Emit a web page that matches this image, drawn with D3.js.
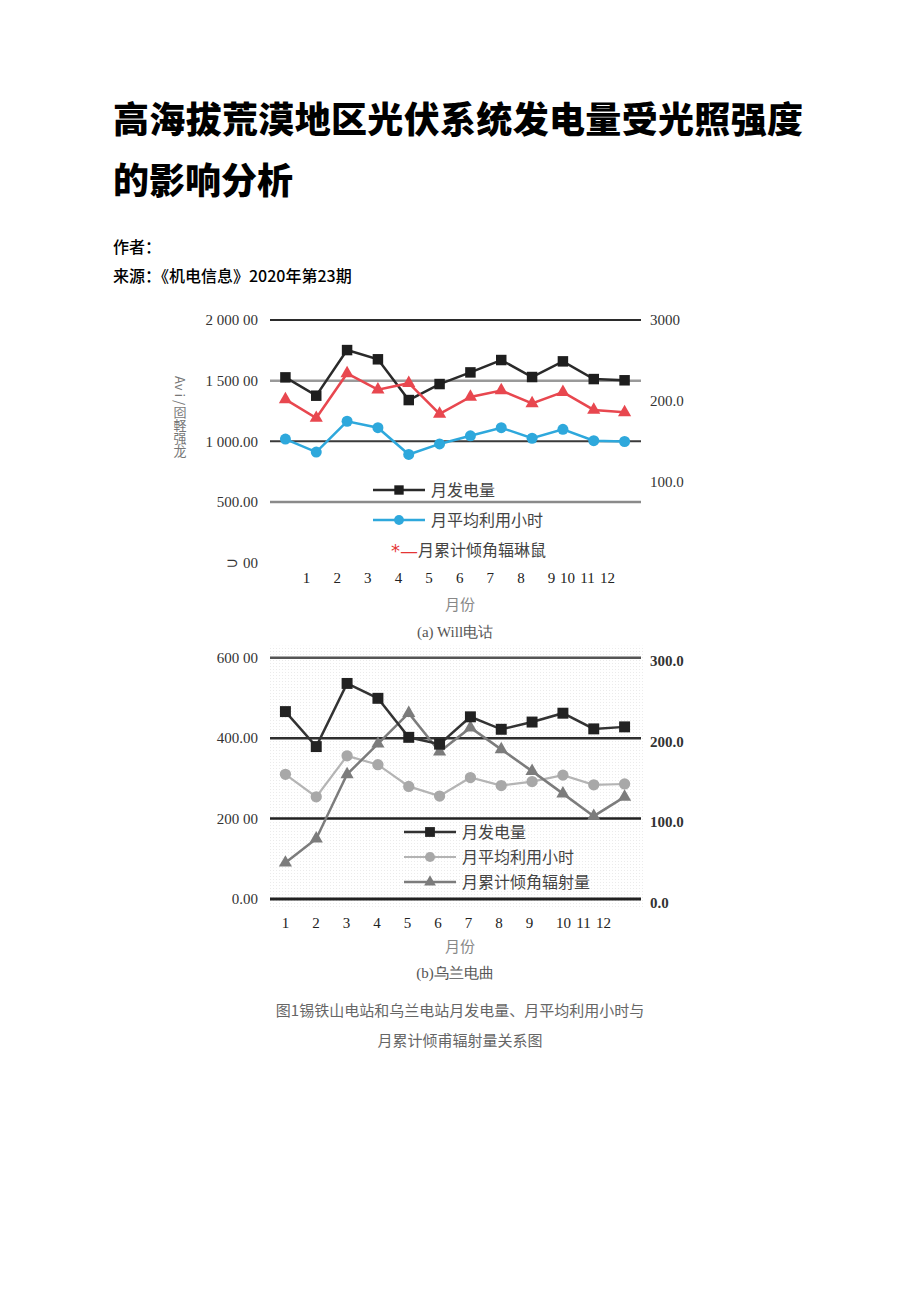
<!DOCTYPE html>
<html>
	<head>
		<meta http-equiv="Content-Type" content="text/html;charset=utf-8"/>
		<title>光伏系统发电量</title>
		<script src="https://d3js.org/d3.v7.min.js"></script>
		<style type="text/css">
			body { margin: 0; background: #fff; }
			.serif { font-family: "Liberation Serif", "DejaVu Serif", serif; }
			.cjk { font-family: "Noto Sans CJK SC", sans-serif; }
			.axis path { display: none; }
			.axis line { display: none; }
			.vert { writing-mode: vertical-rl; }
		</style>
	</head>
	<body>
		<script type="text/javascript">

			//Data
			var months = [1, 2, 3, 4, 5, 6, 7, 8, 9, 10, 11, 12];

			//(a) station
			var powerA = [1527, 1376, 1752, 1676, 1340, 1472, 1568, 1670, 1530, 1659, 1513, 1503];
			var hoursA = [153, 137, 175, 167, 134, 147, 157, 167, 154, 165, 151, 150];
			var radA = [202, 179, 234, 214, 222, 184, 205, 213, 197, 211, 189, 186];

			//(b) station
			var powerB = [466, 379, 536, 499, 402, 385, 453, 422, 440, 462, 423, 428];
			var hoursB = [155, 127, 178, 167, 140, 128, 151, 141, 146, 154, 142, 143];
			var radB = [45, 75, 155, 193, 231, 183, 213, 186, 159, 131, 103, 127];

			//Tick labels (as printed, garbling included)
			var leftTicksA = [0, 500, 1000, 1500, 2000];
			var leftLabelsA = ["⊃ 00", "500.00", "1 000.00", "1 500 00", "2 000 00"];
			var rightTicksA = [100, 200, 300];
			var rightLabelsA = ["100.0", "200.0", "3000"];
			var leftTicksB = [0, 200, 400, 600];
			var leftLabelsB = ["0.00", "200 00", "400.00", "600 00"];
			var rightTicksB = [0, 100, 200, 300];
			var rightLabelsB = ["0.0", "100.0", "200.0", "300.0"];

			var legendA = ["月发电量", "月平均利用小时", "月累计倾角辐琳鼠"];
			var legendB = ["月发电量", "月平均利用小时", "月累计倾角辐射量"];

			var w = 920, h = 1301;

			var svg = d3.select("body").append("svg")
						.attr("width", w)
						.attr("height", h);

			//Page text
			svg.append("text").attr("class", "cjk")
				.attr("x", 113).attr("y", 133)
				.attr("font-size", 36).attr("font-weight", 900)
				.attr("textLength", 690)
				.text("高海拔荒漠地区光伏系统发电量受光照强度");
			svg.append("text").attr("class", "cjk")
				.attr("x", 113).attr("y", 194)
				.attr("font-size", 36).attr("font-weight", 900)
				.text("的影响分析");
			svg.append("text").attr("class", "cjk")
				.attr("x", 113).attr("y", 253)
				.attr("font-size", 16).attr("font-weight", 500)
				.text("作者：");
			svg.append("text").attr("class", "cjk")
				.attr("x", 113).attr("y", 282)
				.attr("font-size", 16).attr("font-weight", 500)
				.text("来源：《机电信息》2020年第23期");

			//Background stipple for chart (b)
			var pat = svg.append("defs").append("pattern")
				.attr("id", "stip")
				.attr("width", 3).attr("height", 3)
				.attr("patternUnits", "userSpaceOnUse");
			pat.append("rect").attr("width", 1).attr("height", 1).attr("fill", "#ebebeb");

			//Draws one chart panel
			function panel(o) {
				var g = svg.append("g");

				var x = d3.scaleBand().domain(months).range([270, 640]);
				var yL = d3.scaleLinear().domain(o.leftDomain).range(o.leftRange);
				var yR = d3.scaleLinear().domain(o.rightDomain).range(o.rightRange);
				var xl = d3.scaleLinear().domain([1, 9, 10, 12]).range(o.labelRange);

				if (o.stipple) {
					g.append("rect")
						.attr("x", 268).attr("y", o.leftRange[1] - 12)
						.attr("width", 375).attr("height", o.leftRange[0] - o.leftRange[1] + 22)
						.attr("fill", "url(#stip)");
				}

				//Gridlines
				g.selectAll("line.grid")
					.data(o.grid)
					.enter()
					.append("line")
					.attr("class", "grid")
					.attr("x1", 270).attr("x2", 641)
					.attr("y1", function(d) { return yL(d.v); })
					.attr("y2", function(d) { return yL(d.v); })
					.attr("stroke", function(d) { return d.c; })
					.attr("stroke-width", function(d) { return d.sw; });

				//Left axis
				g.append("g").attr("class", "axis serif")
					.attr("transform", "translate(258,0)")
					.call(d3.axisLeft(yL).tickValues(o.leftTicks)
						.tickFormat(function(d, i) { return o.leftLabels[i]; }))
					.selectAll("text")
					.attr("x", 0)
					.attr("font-size", 15)
					.attr("fill", "#333")
					.attr("font-family", "Liberation Serif");

				//Right axis
				g.append("g").attr("class", "axis serif")
					.attr("transform", "translate(650,0)")
					.call(d3.axisRight(yR).tickValues(o.rightTicks)
						.tickFormat(function(d, i) { return o.rightLabels[i]; }))
					.selectAll("text")
					.attr("x", 0)
					.attr("dy", o.rightDy)
					.attr("font-size", 15)
					.attr("font-weight", o.rightWeight)
					.attr("fill", "#333")
					.attr("font-family", "Liberation Serif");

				//Month labels
				g.append("g").attr("class", "axis serif")
					.attr("transform", "translate(0," + o.monthY + ")")
					.call(d3.axisBottom(xl).tickValues(months).tickFormat(d3.format("d")))
					.selectAll("text")
					.attr("y", 0)
					.attr("font-size", 15)
					.attr("fill", "#222")
					.attr("font-family", "Liberation Serif");

				g.append("text").attr("class", "cjk")
					.attr("x", 460).attr("y", o.monthY + o.titleOff)
					.attr("text-anchor", "middle")
					.attr("font-size", 15).attr("fill", "#888")
					.text("月份");
				g.append("text").attr("class", "serif")
					.attr("x", 455).attr("y", o.monthY + o.capOff)
					.attr("text-anchor", "middle")
					.attr("font-size", 15).attr("fill", "#555")
					.text(o.caption);

				//Series
				o.series.forEach(function(s) {
					var yS = s.axis === "left" ? yL : yR;
					var line = d3.line()
						.x(function(d, i) { return x(months[i]) + x.bandwidth() / 2; })
						.y(function(d) { return yS(d); });
					g.append("path")
						.datum(s.values)
						.attr("d", line)
						.attr("fill", "none")
						.attr("stroke", s.color)
						.attr("stroke-width", s.lw);
					var sym = d3.symbol().type(s.symbol).size(s.size);
					g.selectAll(null)
						.data(s.values)
						.enter()
						.append("path")
						.attr("d", sym)
						.attr("transform", function(d, i) {
							return "translate(" + (x(months[i]) + x.bandwidth() / 2) + "," + yS(d) + ")";
						})
						.attr("fill", s.mcolor);
				});

				//Legend
				o.legend.forEach(function(l, i) {
					var ly = o.legendY + i * o.legendStep;
					var lg = g.append("g");
					if (l.star) {
						lg.append("text").attr("x", o.legendX + 18).attr("y", ly + 7)
							.attr("font-size", 18).attr("fill", "#e53535")
							.attr("font-family", "DejaVu Sans")
							.text("*—");
						lg.append("text").attr("class", "cjk")
							.attr("x", o.legendX + 45).attr("y", ly + 6)
							.attr("font-size", 16).attr("fill", "#444")
							.text(l.name);
						return;
					}
					lg.append("line")
						.attr("x1", o.legendX).attr("x2", o.legendX + 52)
						.attr("y1", ly).attr("y2", ly)
						.attr("stroke", l.color).attr("stroke-width", l.lw);
					lg.append("path")
						.attr("d", d3.symbol().type(l.symbol).size(l.size * 0.8))
						.attr("transform", "translate(" + (o.legendX + 26) + "," + ly + ")")
						.attr("fill", l.mcolor);
					lg.append("text").attr("class", "cjk")
						.attr("x", o.legendX + 58).attr("y", ly + 6)
						.attr("font-size", 16).attr("fill", "#444")
						.text(l.name);
				});

				return g;
			}

			//(a)
			var seriesA = [
				{ values: powerA, axis: "left", color: "#2a2a2a", mcolor: "#1e1e1e", symbol: d3.symbolSquare, size: 110, lw: 2.5, name: legendA[0] },
				{ values: radA, axis: "right", color: "#e8474f", mcolor: "#e8474f", symbol: d3.symbolTriangle, size: 75, lw: 2.5, name: legendA[2], star: true },
				{ values: hoursA, axis: "right", color: "#2ea8dc", mcolor: "#2ea8dc", symbol: d3.symbolCircle, size: 95, lw: 2.5, name: legendA[1] }
			];
			panel({
				leftDomain: [0, 2000], leftRange: [562.6, 320],
				rightDomain: [0, 300], rightRange: [563, 320],
				leftTicks: leftTicksA, leftLabels: leftLabelsA,
				rightTicks: rightTicksA, rightLabels: rightLabelsA,
				rightDy: "0.32em", rightWeight: 400,
				grid: [
					{ v: 2000, c: "#2b2b2b", sw: 2 },
					{ v: 1500, c: "#9a9a9a", sw: 2.5 },
					{ v: 1000, c: "#3a3a3a", sw: 2 },
					{ v: 500, c: "#8a8a8a", sw: 2.5 }
				],
				labelRange: [306, 551, 567, 607],
				monthY: 572, titleOff: 38, capOff: 65,
				caption: "(a) Will电诂",
				series: seriesA,
				legend: [seriesA[0], seriesA[2], seriesA[1]],
				legendX: 373, legendY: 490, legendStep: 30,
				stipple: false
			});

			//Vertical y-axis title (a)
			svg.append("text").attr("class", "cjk vert")
				.attr("x", 180).attr("y", 376)
				.attr("font-size", 13).attr("fill", "#777")
				.text("Av i /囵軽强龙");

			//(b)
			var seriesB = [
				{ values: hoursB, axis: "right", color: "#b4b4b4", mcolor: "#a8a8a8", symbol: d3.symbolCircle, size: 100, lw: 2.2, name: legendB[1] },
				{ values: radB, axis: "right", color: "#7c7c7c", mcolor: "#7c7c7c", symbol: d3.symbolTriangle, size: 75, lw: 2.5, name: legendB[2] },
				{ values: powerB, axis: "left", color: "#333", mcolor: "#222", symbol: d3.symbolSquare, size: 120, lw: 2.5, name: legendB[0] }
			];
			panel({
				leftDomain: [0, 600], leftRange: [899, 657.7],
				rightDomain: [0, 300], rightRange: [899, 657.7],
				leftTicks: leftTicksB, leftLabels: leftLabelsB,
				rightTicks: rightTicksB, rightLabels: rightLabelsB,
				rightDy: "0.55em", rightWeight: 700,
				grid: [
					{ v: 600, c: "#555", sw: 2.5 },
					{ v: 400, c: "#2f2f2f", sw: 2.5 },
					{ v: 200, c: "#222", sw: 2.5 },
					{ v: 0, c: "#222", sw: 3 }
				],
				labelRange: [285, 529, 563, 603],
				monthY: 917, titleOff: 35, capOff: 61,
				caption: "(b)乌兰电曲",
				series: seriesB,
				legend: [seriesB[2], seriesB[0], seriesB[1]],
				legendX: 404, legendY: 832, legendStep: 25,
				stipple: true
			});

			//Figure caption
			svg.append("text").attr("class", "cjk")
				.attr("x", 460).attr("y", 1016)
				.attr("text-anchor", "middle")
				.attr("font-size", 15).attr("fill", "#666")
				.text("图1锡铁山电站和乌兰电站月发电量、月平均利用小时与");
			svg.append("text").attr("class", "cjk")
				.attr("x", 460).attr("y", 1046)
				.attr("text-anchor", "middle")
				.attr("font-size", 15).attr("fill", "#666")
				.text("月累计倾甫辐射量关系图");

		</script>
	</body>
</html>
